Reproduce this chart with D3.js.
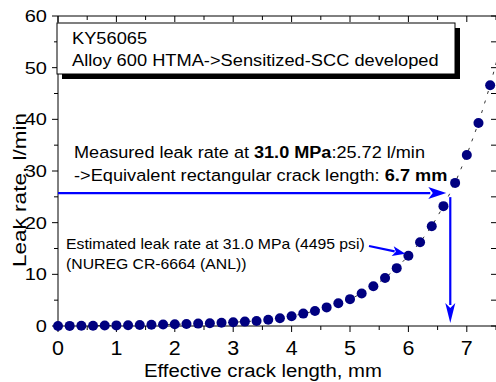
<!DOCTYPE html>
<html><head><meta charset="utf-8">
<script src="https://cdn.jsdelivr.net/npm/d3@7"></script>
<style>
html,body{margin:0;padding:0;background:#fff;}
svg{display:block;font-family:"Liberation Sans",Arial,sans-serif;}
</style></head>
<body>
<svg id="c" width="496" height="382"></svg>
<script>
// ---- data ----
const crackLength = [0,0.2,0.4,0.6,0.8,1.0,1.2,1.4,1.6,1.8,2.0,2.2,2.4,2.6,2.8,3.0,3.2,3.4,3.6,3.8,4.0,4.2,4.4,4.6,4.8,5.0,5.2,5.4,5.6,5.8,6.0,6.2,6.4,6.6,6.8,7.0,7.2,7.4,7.6];
const leakRate    = [0.0,0.02,0.04,0.06,0.09,0.12,0.15,0.19,0.23,0.28,0.33,0.39,0.46,0.54,0.63,0.73,0.85,0.98,1.2,1.5,1.9,2.4,2.9,3.6,4.4,5.2,6.3,7.7,9.3,11.2,13.6,16.2,19.3,23.2,27.7,33.1,39.3,46.6,55.0];
const xTicks = [0,1,2,3,4,5,6,7];
const yTicks = [0,10,20,30,40,50,60];
const measuredRate = 25.72;
const equivLength = 6.7;
const estPoint = [6.0, 13.6];

const svg = d3.select("#c");
const x = d3.scaleLinear().domain([0,7.5]).range([58,496]);
const y = d3.scaleLinear().domain([0,60]).range([326,16]);
const navy = "#000080", blue = "#0000ff";

function txt(g, str, px, py, fs, sx, anchor, weight){
  const t = g.append("text").attr("transform",`translate(${px},${py}) scale(${sx},1)`)
    .attr("font-size",fs).attr("text-anchor",anchor||"start").attr("fill","#000");
  if (Array.isArray(str)) {
    str.forEach(s => t.append("tspan").attr("font-weight", s[1] ? "bold":"normal").text(s[0]));
  } else t.text(str);
  if (weight) t.attr("font-weight",weight);
  return t;
}

// defs
const defs = svg.append("defs");
defs.append("clipPath").attr("id","clip").append("rect").attr("x",40).attr("y",16).attr("width",456).attr("height",330);

// axes frame
const ax = svg.append("g").attr("stroke","#000").attr("stroke-width",1);
ax.append("line").attr("x1",x(0)).attr("x2",x(0)).attr("y1",y(60)).attr("y2",y(0));
ax.append("line").attr("x1",x(0)).attr("x2",x(7.5)).attr("y1",y(0)).attr("y2",y(0));
ax.append("line").attr("x1",x(0)).attr("x2",x(7.5)).attr("y1",y(60)).attr("y2",y(60));

const minorX = d3.range(0,7.51,0.5);
const minorY = d3.range(0,60.1,5);
minorX.forEach(v=>{
  const major = Math.abs(v-Math.round(v))<1e-6;
  ax.append("line").attr("x1",x(v)).attr("x2",x(v)).attr("y1",y(0)).attr("y2",y(0)+(major?6:4));
  ax.append("line").attr("x1",x(v)).attr("x2",x(v)).attr("y1",y(60)).attr("y2",y(60)+(major?6:4));
});
minorY.forEach(v=>{
  const major = v%10===0;
  ax.append("line").attr("x1",x(0)).attr("x2",x(0)-(major?6:4)).attr("y1",y(v)).attr("y2",y(v));
  ax.append("line").attr("x1",x(7.5)).attr("x2",x(7.5)-5).attr("y1",y(v)).attr("y2",y(v));
});

const lab = svg.append("g");
xTicks.forEach(v=> txt(lab, String(v), x(v), 355, 19.5, 1.1, "middle"));
yTicks.forEach(v=> txt(lab, String(v), 47, y(v)+6, 16, 1.25, "end"));

// axis titles
txt(lab, "Effective crack length, mm", 263, 377, 18, 1.13, "middle");
lab.append("text").attr("transform","translate(26,190) rotate(-90) scale(1.22,1)")
  .attr("font-size",18.5).attr("text-anchor","middle").text("Leak rate, l/min");

// text box
const bx = 57, by = 23, bw = 398, bh = 51;
svg.append("rect").attr("x",bx+5).attr("y",by+5).attr("width",bw).attr("height",bh).attr("fill","#000");
svg.append("rect").attr("x",bx).attr("y",by).attr("width",bw).attr("height",bh).attr("fill","#fff").attr("stroke","#000").attr("stroke-width",1);
txt(svg, "KY56065", 72, 44, 16.3, 1.12);
txt(svg, "Alloy 600 HTMA->Sensitized-SCC developed", 72, 66, 16.3, 1.12);

// annotations text
txt(svg, [["Measured leak rate at ",false],["31.0 MPa",true],[":25.72 l/min",false]], 74, 158, 17, 1.065);
txt(svg, [["->Equivalent rectangular crack length: ",false],["6.7 mm",true]], 74, 181, 17, 1.07);
txt(svg, "Estimated leak rate at 31.0 MPa (4495 psi)", 66, 249, 14.2, 1.11);
txt(svg, "(NUREG CR-6664 (ANL))", 66, 269, 14.2, 1.11);

// data
const plot = svg.append("g").attr("clip-path","url(#clip)");
const pts = crackLength.map((c,i)=>[c,leakRate[i]]);
plot.append("path").datum(pts)
  .attr("d", d3.line().x(d=>x(d[0])).y(d=>y(d[1])))
  .attr("fill","none").attr("stroke","#000").attr("stroke-width",0.8).attr("stroke-dasharray","3,7");
plot.selectAll("circle").data(pts).join("circle")
  .attr("cx",d=>x(d[0])).attr("cy",d=>y(d[1])).attr("r",5).attr("fill",navy);

// arrows
function arrow(x1,y1,x2,y2,len,hw,w){
  const ang = Math.atan2(y2-y1,x2-x1);
  const bxp = x2 - len*Math.cos(ang), byp = y2 - len*Math.sin(ang);
  svg.append("line").attr("x1",x1).attr("y1",y1).attr("x2",bxp+Math.cos(ang)*2).attr("y2",byp+Math.sin(ang)*2)
    .attr("stroke",blue).attr("stroke-width",w);
  const px = -Math.sin(ang), py = Math.cos(ang);
  svg.append("path").attr("d",`M${x2},${y2}L${bxp+px*hw},${byp+py*hw}L${bxp+len*0.25*Math.cos(ang)},${byp+len*0.25*Math.sin(ang)}L${bxp-px*hw},${byp-py*hw}Z`)
    .attr("fill",blue);
}
arrow(x(0), y(measuredRate), x(equivLength)-3, y(measuredRate), 18, 6, 2.2);
arrow(x(equivLength)+1, y(measuredRate)+4, x(equivLength)+1, y(0)-3, 20, 5, 2.2);
arrow(369, 246, x(estPoint[0])-3, y(estPoint[1])-2, 13, 5, 2.2);
</script>
</body></html>
